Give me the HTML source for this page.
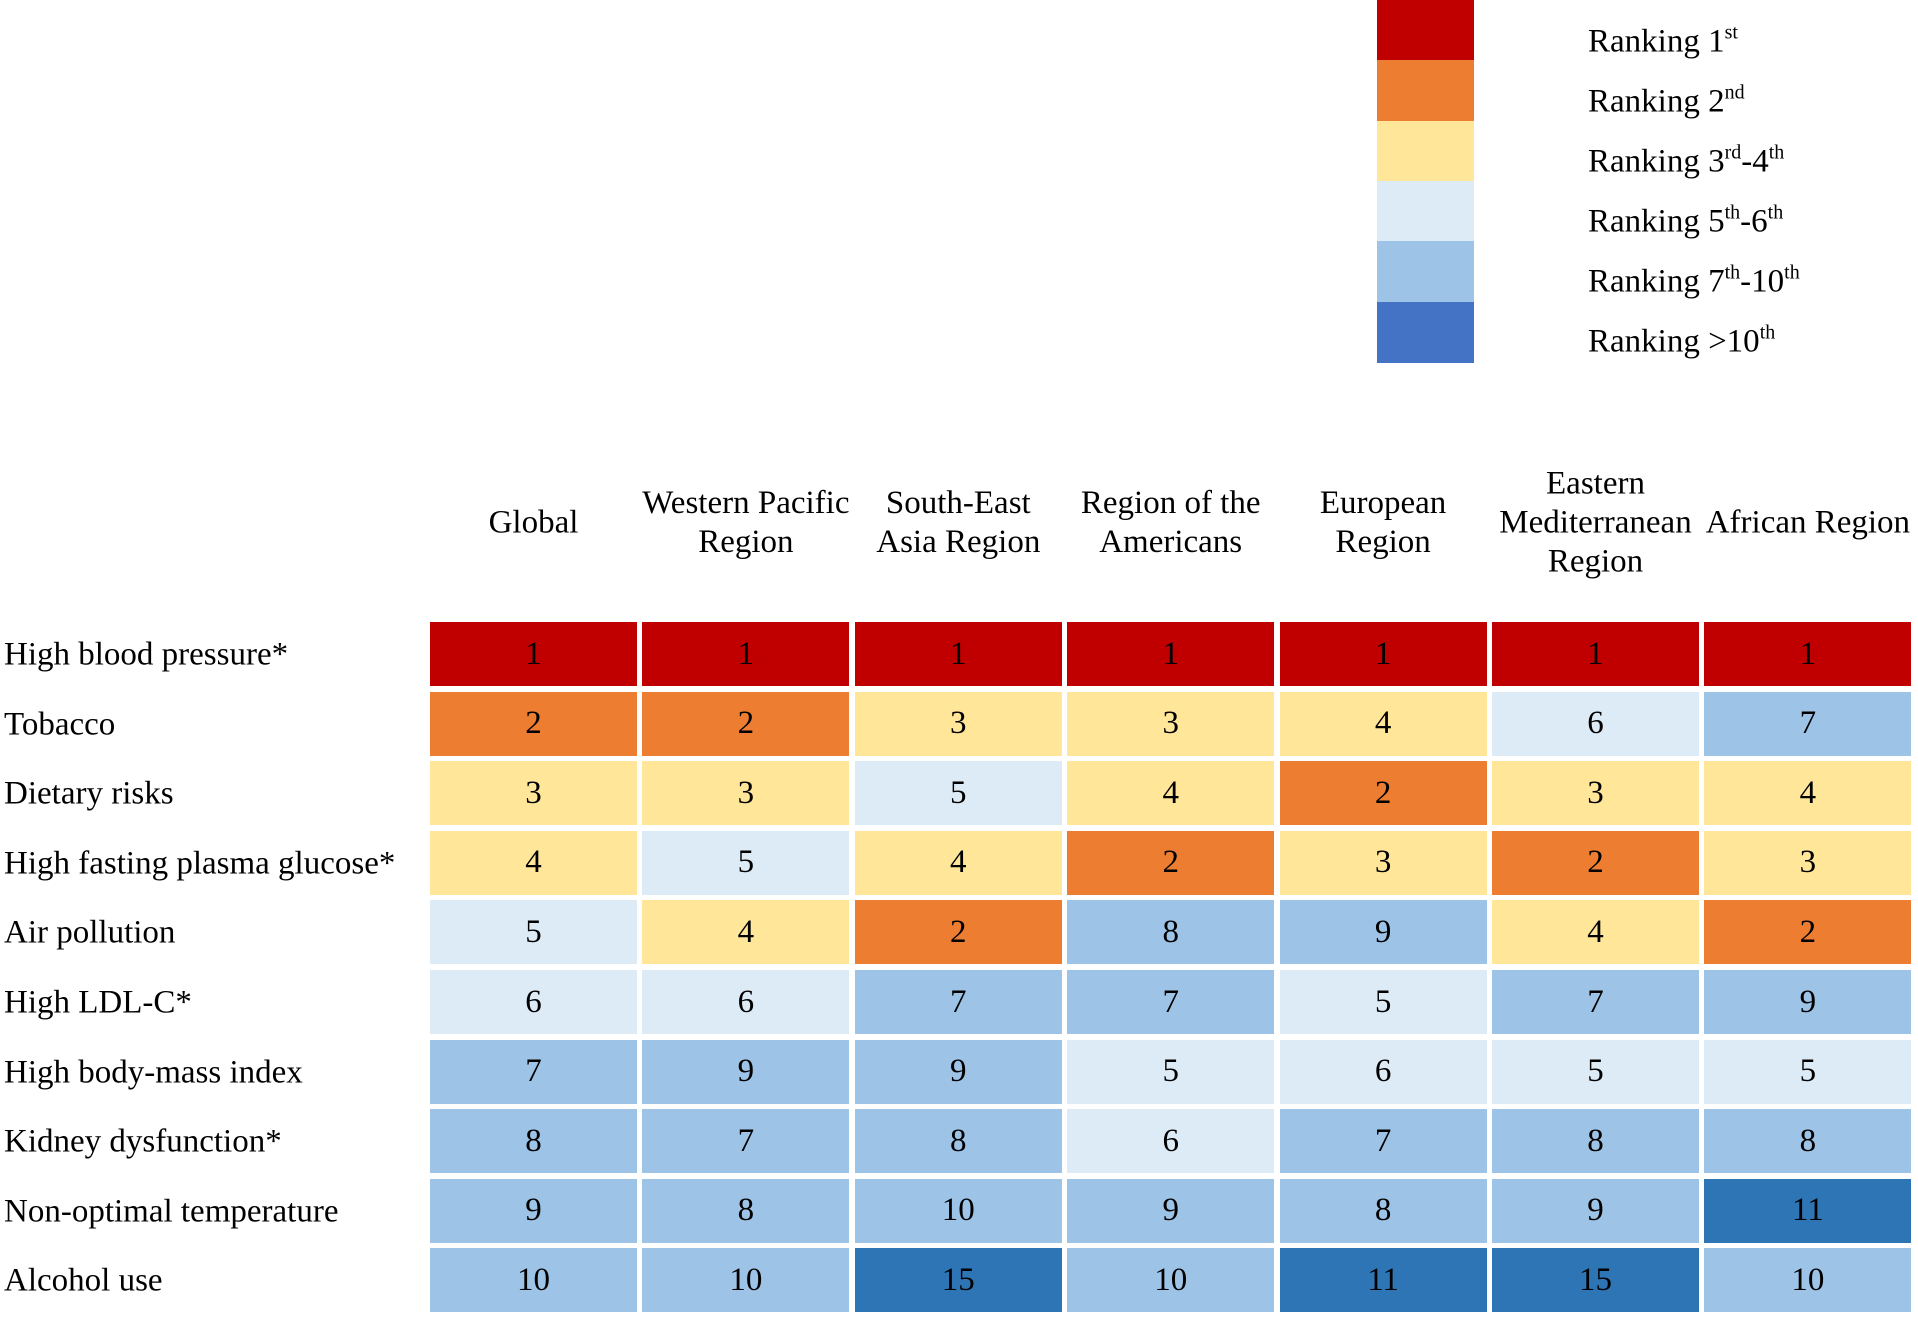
<!DOCTYPE html>
<html><head><meta charset="utf-8"><style>
body{margin:0;background:#fff;width:1918px;height:1318px;overflow:hidden;position:relative;font-family:"Liberation Serif",serif;color:#000}
.a{position:absolute;white-space:nowrap}
.lt{font-size:33px;transform:translateY(-50%)}
sup{font-size:20px;vertical-align:0;position:relative;top:-13px}
.hd{font-size:33px;text-align:center;line-height:39px;transform:translate(-50%,-50%)}
.cell{position:absolute;display:flex;align-items:center;justify-content:center;font-size:33px}
</style></head><body>
<div id="legend"></div>
<div id="grid"></div>
<script>
const regions=["Global","Western Pacific<br>Region","South-East<br>Asia Region","Region of the<br>Americans","European<br>Region","Eastern<br>Mediterranean<br>Region","African Region"];
const risks=["High blood pressure*","Tobacco","Dietary risks","High fasting plasma glucose*","Air pollution","High LDL-C*","High body-mass index","Kidney dysfunction*","Non-optimal temperature","Alcohol use"];
const ranks=[
[1,1,1,1,1,1,1],
[2,2,3,3,4,6,7],
[3,3,5,4,2,3,4],
[4,5,4,2,3,2,3],
[5,4,2,8,9,4,2],
[6,6,7,7,5,7,9],
[7,9,9,5,6,5,5],
[8,7,8,6,7,8,8],
[9,8,10,9,8,9,11],
[10,10,15,10,11,15,10]];
const legendLabels=["Ranking 1<sup>st</sup>","Ranking 2<sup>nd</sup>","Ranking 3<sup>rd</sup>-4<sup>th</sup>","Ranking 5<sup>th</sup>-6<sup>th</sup>","Ranking 7<sup>th</sup>-10<sup>th</sup>","Ranking &gt;10<sup>th</sup>"];
const legendColors=["#c00000","#ed7d31","#ffe699","#ddebf7","#9dc3e6","#4472c4"];
function color(r){if(r==1)return "#c00000";if(r==2)return "#ed7d31";if(r<=4)return "#ffe699";if(r<=6)return "#ddebf7";if(r<=10)return "#9dc3e6";return "#2e75b6";}
const colX=i=>430+i*212.4, rowY=j=>622+j*69.6;
const lg=document.getElementById('legend'), g=document.getElementById('grid');
legendColors.forEach((c,i)=>{
 const s=document.createElement('div');s.className='a';
 
 
 s.style.cssText=`left:1377px;top:${i*60.3}px;width:97px;height:61px;background:${c}`;lg.appendChild(s);
 const t=document.createElement('div');t.className='a lt';
 
 
 t.style.left='1588px';t.style.top=(42+i*60)+'px';t.innerHTML=legendLabels[i];lg.appendChild(t);
});
regions.forEach((r,i)=>{
 const h=document.createElement('div');h.className='a hd';
 
 
 h.style.left=(colX(i)+103.5)+'px';h.style.top='523px';h.innerHTML=r;g.appendChild(h);
});
risks.forEach((r,j)=>{
 const l=document.createElement('div');l.className='a lt';
 
 
 l.style.left='4px';l.style.top=(rowY(j)+33)+'px';l.textContent=r;g.appendChild(l);
 ranks[j].forEach((v,i)=>{
  const c=document.createElement('div');c.className='cell';
  
  
  c.style.cssText=`left:${colX(i)}px;top:${rowY(j)}px;width:207px;height:64px;background:${color(v)}`;
  c.textContent=v;g.appendChild(c);
 });
});
</script>
</body></html>
